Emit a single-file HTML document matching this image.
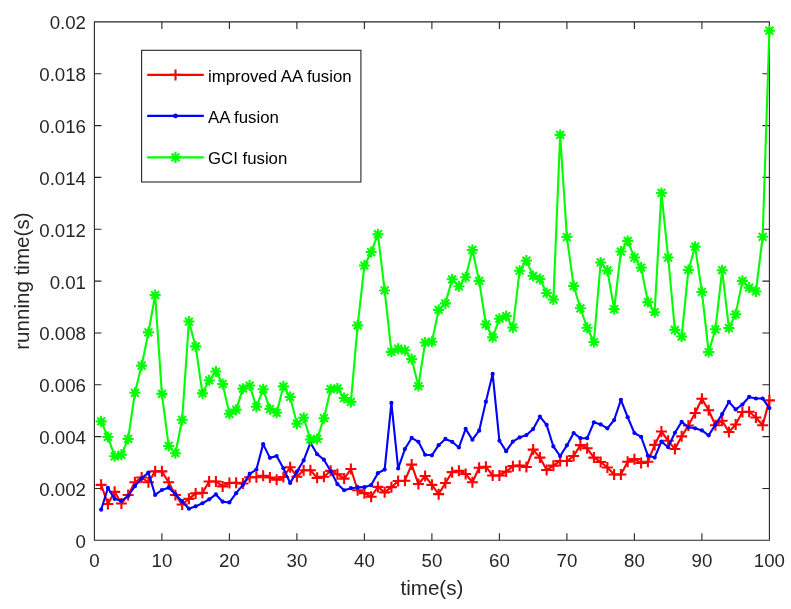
<!DOCTYPE html><html><head><meta charset="utf-8"><style>html,body{margin:0;padding:0;background:#fff;}svg{display:block;will-change:transform;}text{font-family:"Liberation Sans",sans-serif;}</style></head><body>
<svg width="791" height="609" viewBox="0 0 791 609">
<rect width="791" height="609" fill="#fff"/>
<path d="M94.4 21.9H769.4V540.3H94.4ZM94.40 540.3V533.30M94.40 21.9V28.90M161.90 540.3V533.30M161.90 21.9V28.90M229.40 540.3V533.30M229.40 21.9V28.90M296.90 540.3V533.30M296.90 21.9V28.90M364.40 540.3V533.30M364.40 21.9V28.90M431.90 540.3V533.30M431.90 21.9V28.90M499.40 540.3V533.30M499.40 21.9V28.90M566.90 540.3V533.30M566.90 21.9V28.90M634.40 540.3V533.30M634.40 21.9V28.90M701.90 540.3V533.30M701.90 21.9V28.90M769.40 540.3V533.30M769.40 21.9V28.90M94.4 540.30H101.40M769.4 540.30H762.40M94.4 488.46H101.40M769.4 488.46H762.40M94.4 436.62H101.40M769.4 436.62H762.40M94.4 384.78H101.40M769.4 384.78H762.40M94.4 332.94H101.40M769.4 332.94H762.40M94.4 281.10H101.40M769.4 281.10H762.40M94.4 229.26H101.40M769.4 229.26H762.40M94.4 177.42H101.40M769.4 177.42H762.40M94.4 125.58H101.40M769.4 125.58H762.40M94.4 73.74H101.40M769.4 73.74H762.40M94.4 21.90H101.40M769.4 21.90H762.40" stroke="#262626" stroke-width="1.1" fill="none"/>
<polyline points="101.15,484.83 107.90,504.01 114.65,491.83 121.40,503.49 128.15,494.94 134.90,482.24 141.65,477.57 148.40,482.24 155.15,471.35 161.90,471.35 168.65,482.24 175.40,494.94 182.15,504.53 188.90,498.83 195.65,493.38 202.40,492.87 209.15,481.46 215.90,481.46 222.65,486.39 229.40,483.02 236.15,482.76 242.90,483.54 249.65,477.31 256.40,477.31 263.15,475.76 269.90,477.57 276.65,479.65 283.40,477.06 290.15,467.21 296.90,476.80 303.65,470.32 310.40,470.32 317.15,477.83 323.90,476.80 330.65,470.83 337.40,474.20 344.15,478.61 350.90,469.02 357.65,490.27 364.40,493.13 371.15,496.75 377.90,486.90 384.65,492.35 391.40,487.16 398.15,480.94 404.90,480.68 411.65,464.61 418.40,484.05 425.15,476.02 431.90,484.83 438.65,494.16 445.40,483.02 452.15,472.13 458.90,470.83 465.65,473.94 472.40,482.24 479.15,467.72 485.90,466.69 492.65,475.50 499.40,475.50 506.15,471.61 512.90,466.17 519.65,465.65 526.40,466.95 533.15,449.58 539.90,457.62 546.65,470.06 553.40,465.65 560.15,460.98 566.90,460.98 573.65,456.06 580.40,445.17 587.15,448.28 593.90,457.62 600.65,462.02 607.40,467.46 614.15,474.46 620.90,474.46 627.65,461.76 634.40,459.17 641.15,463.06 647.90,461.76 654.65,444.91 661.40,431.44 668.15,440.77 674.90,449.06 681.65,436.36 688.40,425.47 695.15,413.03 701.90,398.78 708.65,410.18 715.40,425.22 722.15,420.81 728.90,431.95 735.65,424.44 742.40,412.00 749.15,411.74 755.90,417.44 762.65,425.22 769.40,400.33" fill="none" stroke="#ff0000" stroke-width="2.1" stroke-linejoin="round"/>
<path d="M95.65 484.83H106.65M101.15 479.33V490.33M102.40 504.01H113.40M107.90 498.51V509.51M109.15 491.83H120.15M114.65 486.33V497.33M115.90 503.49H126.90M121.40 497.99V508.99M122.65 494.94H133.65M128.15 489.44V500.44M129.40 482.24H140.40M134.90 476.74V487.74M136.15 477.57H147.15M141.65 472.07V483.07M142.90 482.24H153.90M148.40 476.74V487.74M149.65 471.35H160.65M155.15 465.85V476.85M156.40 471.35H167.40M161.90 465.85V476.85M163.15 482.24H174.15M168.65 476.74V487.74M169.90 494.94H180.90M175.40 489.44V500.44M176.65 504.53H187.65M182.15 499.03V510.03M183.40 498.83H194.40M188.90 493.33V504.33M190.15 493.38H201.15M195.65 487.88V498.88M196.90 492.87H207.90M202.40 487.37V498.37M203.65 481.46H214.65M209.15 475.96V486.96M210.40 481.46H221.40M215.90 475.96V486.96M217.15 486.39H228.15M222.65 480.89V491.89M223.90 483.02H234.90M229.40 477.52V488.52M230.65 482.76H241.65M236.15 477.26V488.26M237.40 483.54H248.40M242.90 478.04V489.04M244.15 477.31H255.15M249.65 471.81V482.81M250.90 477.31H261.90M256.40 471.81V482.81M257.65 475.76H268.65M263.15 470.26V481.26M264.40 477.57H275.40M269.90 472.07V483.07M271.15 479.65H282.15M276.65 474.15V485.15M277.90 477.06H288.90M283.40 471.56V482.56M284.65 467.21H295.65M290.15 461.71V472.71M291.40 476.80H302.40M296.90 471.30V482.30M298.15 470.32H309.15M303.65 464.82V475.82M304.90 470.32H315.90M310.40 464.82V475.82M311.65 477.83H322.65M317.15 472.33V483.33M318.40 476.80H329.40M323.90 471.30V482.30M325.15 470.83H336.15M330.65 465.33V476.33M331.90 474.20H342.90M337.40 468.70V479.70M338.65 478.61H349.65M344.15 473.11V484.11M345.40 469.02H356.40M350.90 463.52V474.52M352.15 490.27H363.15M357.65 484.77V495.77M358.90 493.13H369.90M364.40 487.63V498.63M365.65 496.75H376.65M371.15 491.25V502.25M372.40 486.90H383.40M377.90 481.40V492.40M379.15 492.35H390.15M384.65 486.85V497.85M385.90 487.16H396.90M391.40 481.66V492.66M392.65 480.94H403.65M398.15 475.44V486.44M399.40 480.68H410.40M404.90 475.18V486.18M406.15 464.61H417.15M411.65 459.11V470.11M412.90 484.05H423.90M418.40 478.55V489.55M419.65 476.02H430.65M425.15 470.52V481.52M426.40 484.83H437.40M431.90 479.33V490.33M433.15 494.16H444.15M438.65 488.66V499.66M439.90 483.02H450.90M445.40 477.52V488.52M446.65 472.13H457.65M452.15 466.63V477.63M453.40 470.83H464.40M458.90 465.33V476.33M460.15 473.94H471.15M465.65 468.44V479.44M466.90 482.24H477.90M472.40 476.74V487.74M473.65 467.72H484.65M479.15 462.22V473.22M480.40 466.69H491.40M485.90 461.19V472.19M487.15 475.50H498.15M492.65 470.00V481.00M493.90 475.50H504.90M499.40 470.00V481.00M500.65 471.61H511.65M506.15 466.11V477.11M507.40 466.17H518.40M512.90 460.67V471.67M514.15 465.65H525.15M519.65 460.15V471.15M520.90 466.95H531.90M526.40 461.45V472.45M527.65 449.58H538.65M533.15 444.08V455.08M534.40 457.62H545.40M539.90 452.12V463.12M541.15 470.06H552.15M546.65 464.56V475.56M547.90 465.65H558.90M553.40 460.15V471.15M554.65 460.98H565.65M560.15 455.48V466.48M561.40 460.98H572.40M566.90 455.48V466.48M568.15 456.06H579.15M573.65 450.56V461.56M574.90 445.17H585.90M580.40 439.67V450.67M581.65 448.28H592.65M587.15 442.78V453.78M588.40 457.62H599.40M593.90 452.12V463.12M595.15 462.02H606.15M600.65 456.52V467.52M601.90 467.46H612.90M607.40 461.96V472.96M608.65 474.46H619.65M614.15 468.96V479.96M615.40 474.46H626.40M620.90 468.96V479.96M622.15 461.76H633.15M627.65 456.26V467.26M628.90 459.17H639.90M634.40 453.67V464.67M635.65 463.06H646.65M641.15 457.56V468.56M642.40 461.76H653.40M647.90 456.26V467.26M649.15 444.91H660.15M654.65 439.41V450.41M655.90 431.44H666.90M661.40 425.94V436.94M662.65 440.77H673.65M668.15 435.27V446.27M669.40 449.06H680.40M674.90 443.56V454.56M676.15 436.36H687.15M681.65 430.86V441.86M682.90 425.47H693.90M688.40 419.97V430.97M689.65 413.03H700.65M695.15 407.53V418.53M696.40 398.78H707.40M701.90 393.28V404.28M703.15 410.18H714.15M708.65 404.68V415.68M709.90 425.22H720.90M715.40 419.72V430.72M716.65 420.81H727.65M722.15 415.31V426.31M723.40 431.95H734.40M728.90 426.45V437.45M730.15 424.44H741.15M735.65 418.94V429.94M736.90 412.00H747.90M742.40 406.50V417.50M743.65 411.74H754.65M749.15 406.24V417.24M750.40 417.44H761.40M755.90 411.94V422.94M757.15 425.22H768.15M762.65 419.72V430.72M763.90 400.33H774.90M769.40 394.83V405.83" stroke="#ff0000" stroke-width="2.1" fill="none"/>
<polyline points="101.15,509.71 107.90,487.94 114.65,498.83 121.40,500.90 128.15,495.98 134.90,486.13 141.65,478.35 148.40,472.65 155.15,494.94 161.90,490.02 168.65,487.68 175.40,494.16 182.15,501.42 188.90,508.68 195.65,506.34 202.40,503.23 209.15,499.35 215.90,494.42 222.65,501.68 229.40,502.46 236.15,493.13 242.90,484.83 249.65,473.94 256.40,469.54 263.15,444.14 269.90,457.87 276.65,456.06 283.40,468.24 290.15,483.02 296.90,471.61 303.65,460.47 310.40,442.84 317.15,454.25 323.90,459.69 330.65,471.09 337.40,484.05 344.15,490.27 350.90,488.20 357.65,487.42 364.40,487.16 371.15,485.09 377.90,473.17 384.65,469.54 391.40,402.92 398.15,468.50 404.90,449.06 411.65,437.92 418.40,441.80 425.15,454.76 431.90,455.28 438.65,445.17 445.40,438.95 452.15,441.80 458.90,447.51 465.65,428.84 472.40,439.73 479.15,430.66 485.90,401.63 492.65,373.89 499.40,440.77 506.15,451.14 512.90,441.54 519.65,437.40 526.40,435.06 533.15,429.10 539.90,416.66 546.65,424.96 553.40,446.47 560.15,456.06 566.90,445.43 573.65,432.99 580.40,438.18 587.15,438.18 593.90,422.36 600.65,424.44 607.40,428.33 614.15,420.03 620.90,399.81 627.65,417.18 634.40,432.99 641.15,436.88 647.90,455.54 654.65,457.62 661.40,441.54 668.15,447.25 674.90,432.73 681.65,421.85 688.40,427.29 695.15,428.33 701.90,430.40 708.65,435.32 715.40,424.70 722.15,414.07 728.90,401.89 735.65,409.40 742.40,404.48 749.15,396.96 755.90,398.52 762.65,398.52 769.40,408.11" fill="none" stroke="#0000ff" stroke-width="2.1" stroke-linejoin="round"/>
<g fill="#0000ff"><circle cx="101.15" cy="509.71" r="2.1"/><circle cx="107.90" cy="487.94" r="2.1"/><circle cx="114.65" cy="498.83" r="2.1"/><circle cx="121.40" cy="500.90" r="2.1"/><circle cx="128.15" cy="495.98" r="2.1"/><circle cx="134.90" cy="486.13" r="2.1"/><circle cx="141.65" cy="478.35" r="2.1"/><circle cx="148.40" cy="472.65" r="2.1"/><circle cx="155.15" cy="494.94" r="2.1"/><circle cx="161.90" cy="490.02" r="2.1"/><circle cx="168.65" cy="487.68" r="2.1"/><circle cx="175.40" cy="494.16" r="2.1"/><circle cx="182.15" cy="501.42" r="2.1"/><circle cx="188.90" cy="508.68" r="2.1"/><circle cx="195.65" cy="506.34" r="2.1"/><circle cx="202.40" cy="503.23" r="2.1"/><circle cx="209.15" cy="499.35" r="2.1"/><circle cx="215.90" cy="494.42" r="2.1"/><circle cx="222.65" cy="501.68" r="2.1"/><circle cx="229.40" cy="502.46" r="2.1"/><circle cx="236.15" cy="493.13" r="2.1"/><circle cx="242.90" cy="484.83" r="2.1"/><circle cx="249.65" cy="473.94" r="2.1"/><circle cx="256.40" cy="469.54" r="2.1"/><circle cx="263.15" cy="444.14" r="2.1"/><circle cx="269.90" cy="457.87" r="2.1"/><circle cx="276.65" cy="456.06" r="2.1"/><circle cx="283.40" cy="468.24" r="2.1"/><circle cx="290.15" cy="483.02" r="2.1"/><circle cx="296.90" cy="471.61" r="2.1"/><circle cx="303.65" cy="460.47" r="2.1"/><circle cx="310.40" cy="442.84" r="2.1"/><circle cx="317.15" cy="454.25" r="2.1"/><circle cx="323.90" cy="459.69" r="2.1"/><circle cx="330.65" cy="471.09" r="2.1"/><circle cx="337.40" cy="484.05" r="2.1"/><circle cx="344.15" cy="490.27" r="2.1"/><circle cx="350.90" cy="488.20" r="2.1"/><circle cx="357.65" cy="487.42" r="2.1"/><circle cx="364.40" cy="487.16" r="2.1"/><circle cx="371.15" cy="485.09" r="2.1"/><circle cx="377.90" cy="473.17" r="2.1"/><circle cx="384.65" cy="469.54" r="2.1"/><circle cx="391.40" cy="402.92" r="2.1"/><circle cx="398.15" cy="468.50" r="2.1"/><circle cx="404.90" cy="449.06" r="2.1"/><circle cx="411.65" cy="437.92" r="2.1"/><circle cx="418.40" cy="441.80" r="2.1"/><circle cx="425.15" cy="454.76" r="2.1"/><circle cx="431.90" cy="455.28" r="2.1"/><circle cx="438.65" cy="445.17" r="2.1"/><circle cx="445.40" cy="438.95" r="2.1"/><circle cx="452.15" cy="441.80" r="2.1"/><circle cx="458.90" cy="447.51" r="2.1"/><circle cx="465.65" cy="428.84" r="2.1"/><circle cx="472.40" cy="439.73" r="2.1"/><circle cx="479.15" cy="430.66" r="2.1"/><circle cx="485.90" cy="401.63" r="2.1"/><circle cx="492.65" cy="373.89" r="2.1"/><circle cx="499.40" cy="440.77" r="2.1"/><circle cx="506.15" cy="451.14" r="2.1"/><circle cx="512.90" cy="441.54" r="2.1"/><circle cx="519.65" cy="437.40" r="2.1"/><circle cx="526.40" cy="435.06" r="2.1"/><circle cx="533.15" cy="429.10" r="2.1"/><circle cx="539.90" cy="416.66" r="2.1"/><circle cx="546.65" cy="424.96" r="2.1"/><circle cx="553.40" cy="446.47" r="2.1"/><circle cx="560.15" cy="456.06" r="2.1"/><circle cx="566.90" cy="445.43" r="2.1"/><circle cx="573.65" cy="432.99" r="2.1"/><circle cx="580.40" cy="438.18" r="2.1"/><circle cx="587.15" cy="438.18" r="2.1"/><circle cx="593.90" cy="422.36" r="2.1"/><circle cx="600.65" cy="424.44" r="2.1"/><circle cx="607.40" cy="428.33" r="2.1"/><circle cx="614.15" cy="420.03" r="2.1"/><circle cx="620.90" cy="399.81" r="2.1"/><circle cx="627.65" cy="417.18" r="2.1"/><circle cx="634.40" cy="432.99" r="2.1"/><circle cx="641.15" cy="436.88" r="2.1"/><circle cx="647.90" cy="455.54" r="2.1"/><circle cx="654.65" cy="457.62" r="2.1"/><circle cx="661.40" cy="441.54" r="2.1"/><circle cx="668.15" cy="447.25" r="2.1"/><circle cx="674.90" cy="432.73" r="2.1"/><circle cx="681.65" cy="421.85" r="2.1"/><circle cx="688.40" cy="427.29" r="2.1"/><circle cx="695.15" cy="428.33" r="2.1"/><circle cx="701.90" cy="430.40" r="2.1"/><circle cx="708.65" cy="435.32" r="2.1"/><circle cx="715.40" cy="424.70" r="2.1"/><circle cx="722.15" cy="414.07" r="2.1"/><circle cx="728.90" cy="401.89" r="2.1"/><circle cx="735.65" cy="409.40" r="2.1"/><circle cx="742.40" cy="404.48" r="2.1"/><circle cx="749.15" cy="396.96" r="2.1"/><circle cx="755.90" cy="398.52" r="2.1"/><circle cx="762.65" cy="398.52" r="2.1"/><circle cx="769.40" cy="408.11" r="2.1"/></g>
<polyline points="101.15,421.33 107.90,436.88 114.65,456.32 121.40,454.76 128.15,438.95 134.90,392.82 141.65,365.60 148.40,332.42 155.15,295.10 161.90,393.85 168.65,445.95 175.40,453.21 182.15,419.77 188.90,321.54 195.65,346.42 202.40,393.33 209.15,380.37 215.90,371.56 222.65,384.00 229.40,413.81 236.15,409.66 242.90,388.67 249.65,385.56 256.40,406.81 263.15,389.19 269.90,409.14 276.65,412.77 283.40,386.34 290.15,396.96 296.90,423.66 303.65,417.70 310.40,439.47 317.15,438.95 323.90,418.22 330.65,389.19 337.40,388.41 344.15,398.00 350.90,401.89 357.65,325.42 364.40,265.55 371.15,252.07 377.90,234.18 384.65,290.43 391.40,351.86 398.15,348.75 404.90,350.31 411.65,359.12 418.40,386.08 425.15,342.53 431.90,341.75 438.65,309.87 445.40,303.39 452.15,279.29 458.90,286.28 465.65,277.21 472.40,250.00 479.15,280.84 485.90,324.39 492.65,337.35 499.40,318.68 506.15,316.09 512.90,327.50 519.65,270.73 526.40,260.62 533.15,275.92 539.90,279.03 546.65,293.02 553.40,299.50 560.15,134.91 566.90,237.04 573.65,286.02 580.40,308.32 587.15,327.76 593.90,342.01 600.65,262.44 607.40,270.47 614.15,309.09 620.90,251.55 627.65,240.92 634.40,257.51 641.15,267.62 647.90,302.10 654.65,312.20 661.40,192.97 668.15,257.51 674.90,329.83 681.65,336.57 688.40,269.95 695.15,246.63 701.90,291.99 708.65,352.12 715.40,329.31 722.15,270.21 728.90,328.02 735.65,314.28 742.40,280.84 749.15,287.58 755.90,291.47 762.65,236.78 769.40,30.71" fill="none" stroke="#00ff00" stroke-width="2.1" stroke-linejoin="round"/>
<path d="M95.65 421.33H106.65M101.15 415.83V426.83M97.26 417.44L105.04 425.22M97.26 425.22L105.04 417.44M102.40 436.88H113.40M107.90 431.38V442.38M104.01 432.99L111.79 440.77M104.01 440.77L111.79 432.99M109.15 456.32H120.15M114.65 450.82V461.82M110.76 452.43L118.54 460.21M110.76 460.21L118.54 452.43M115.90 454.76H126.90M121.40 449.26V460.26M117.51 450.87L125.29 458.65M117.51 458.65L125.29 450.87M122.65 438.95H133.65M128.15 433.45V444.45M124.26 435.06L132.04 442.84M124.26 442.84L132.04 435.06M129.40 392.82H140.40M134.90 387.32V398.32M131.01 388.93L138.79 396.70M131.01 396.70L138.79 388.93M136.15 365.60H147.15M141.65 360.10V371.10M137.76 361.71L145.54 369.49M137.76 369.49L145.54 361.71M142.90 332.42H153.90M148.40 326.92V337.92M144.51 328.53L152.29 336.31M144.51 336.31L152.29 328.53M149.65 295.10H160.65M155.15 289.60V300.60M151.26 291.21L159.04 298.99M151.26 298.99L159.04 291.21M156.40 393.85H167.40M161.90 388.35V399.35M158.01 389.96L165.79 397.74M158.01 397.74L165.79 389.96M163.15 445.95H174.15M168.65 440.45V451.45M164.76 442.06L172.54 449.84M164.76 449.84L172.54 442.06M169.90 453.21H180.90M175.40 447.71V458.71M171.51 449.32L179.29 457.10M171.51 457.10L179.29 449.32M176.65 419.77H187.65M182.15 414.27V425.27M178.26 415.88L186.04 423.66M178.26 423.66L186.04 415.88M183.40 321.54H194.40M188.90 316.04V327.04M185.01 317.65L192.79 325.42M185.01 325.42L192.79 317.65M190.15 346.42H201.15M195.65 340.92V351.92M191.76 342.53L199.54 350.31M191.76 350.31L199.54 342.53M196.90 393.33H207.90M202.40 387.83V398.83M198.51 389.44L206.29 397.22M198.51 397.22L206.29 389.44M203.65 380.37H214.65M209.15 374.87V385.87M205.26 376.48L213.04 384.26M205.26 384.26L213.04 376.48M210.40 371.56H221.40M215.90 366.06V377.06M212.01 367.67L219.79 375.45M212.01 375.45L219.79 367.67M217.15 384.00H228.15M222.65 378.50V389.50M218.76 380.11L226.54 387.89M218.76 387.89L226.54 380.11M223.90 413.81H234.90M229.40 408.31V419.31M225.51 409.92L233.29 417.70M225.51 417.70L233.29 409.92M230.65 409.66H241.65M236.15 404.16V415.16M232.26 405.77L240.04 413.55M232.26 413.55L240.04 405.77M237.40 388.67H248.40M242.90 383.17V394.17M239.01 384.78L246.79 392.56M239.01 392.56L246.79 384.78M244.15 385.56H255.15M249.65 380.06V391.06M245.76 381.67L253.54 389.45M245.76 389.45L253.54 381.67M250.90 406.81H261.90M256.40 401.31V412.31M252.51 402.92L260.29 410.70M252.51 410.70L260.29 402.92M257.65 389.19H268.65M263.15 383.69V394.69M259.26 385.30L267.04 393.08M259.26 393.08L267.04 385.30M264.40 409.14H275.40M269.90 403.64V414.64M266.01 405.26L273.79 413.03M266.01 413.03L273.79 405.26M271.15 412.77H282.15M276.65 407.27V418.27M272.76 408.88L280.54 416.66M272.76 416.66L280.54 408.88M277.90 386.34H288.90M283.40 380.84V391.84M279.51 382.45L287.29 390.22M279.51 390.22L287.29 382.45M284.65 396.96H295.65M290.15 391.46V402.46M286.26 393.07L294.04 400.85M286.26 400.85L294.04 393.07M291.40 423.66H302.40M296.90 418.16V429.16M293.01 419.77L300.79 427.55M293.01 427.55L300.79 419.77M298.15 417.70H309.15M303.65 412.20V423.20M299.76 413.81L307.54 421.59M299.76 421.59L307.54 413.81M304.90 439.47H315.90M310.40 433.97V444.97M306.51 435.58L314.29 443.36M306.51 443.36L314.29 435.58M311.65 438.95H322.65M317.15 433.45V444.45M313.26 435.06L321.04 442.84M313.26 442.84L321.04 435.06M318.40 418.22H329.40M323.90 412.72V423.72M320.01 414.33L327.79 422.11M320.01 422.11L327.79 414.33M325.15 389.19H336.15M330.65 383.69V394.69M326.76 385.30L334.54 393.08M326.76 393.08L334.54 385.30M331.90 388.41H342.90M337.40 382.91V393.91M333.51 384.52L341.29 392.30M333.51 392.30L341.29 384.52M338.65 398.00H349.65M344.15 392.50V403.50M340.26 394.11L348.04 401.89M340.26 401.89L348.04 394.11M345.40 401.89H356.40M350.90 396.39V407.39M347.01 398.00L354.79 405.78M347.01 405.78L354.79 398.00M352.15 325.42H363.15M357.65 319.92V330.92M353.76 321.53L361.54 329.31M353.76 329.31L361.54 321.53M358.90 265.55H369.90M364.40 260.05V271.05M360.51 261.66L368.29 269.44M360.51 269.44L368.29 261.66M365.65 252.07H376.65M371.15 246.57V257.57M367.26 248.18L375.04 255.96M367.26 255.96L375.04 248.18M372.40 234.18H383.40M377.90 228.68V239.68M374.01 230.30L381.79 238.07M374.01 238.07L381.79 230.30M379.15 290.43H390.15M384.65 284.93V295.93M380.76 286.54L388.54 294.32M380.76 294.32L388.54 286.54M385.90 351.86H396.90M391.40 346.36V357.36M387.51 347.97L395.29 355.75M387.51 355.75L395.29 347.97M392.65 348.75H403.65M398.15 343.25V354.25M394.26 344.86L402.04 352.64M394.26 352.64L402.04 344.86M399.40 350.31H410.40M404.90 344.81V355.81M401.01 346.42L408.79 354.20M401.01 354.20L408.79 346.42M406.15 359.12H417.15M411.65 353.62V364.62M407.76 355.23L415.54 363.01M407.76 363.01L415.54 355.23M412.90 386.08H423.90M418.40 380.58V391.58M414.51 382.19L422.29 389.97M414.51 389.97L422.29 382.19M419.65 342.53H430.65M425.15 337.03V348.03M421.26 338.64L429.04 346.42M421.26 346.42L429.04 338.64M426.40 341.75H437.40M431.90 336.25V347.25M428.01 337.86L435.79 345.64M428.01 345.64L435.79 337.86M433.15 309.87H444.15M438.65 304.37V315.37M434.76 305.98L442.54 313.76M434.76 313.76L442.54 305.98M439.90 303.39H450.90M445.40 297.89V308.89M441.51 299.50L449.29 307.28M441.51 307.28L449.29 299.50M446.65 279.29H457.65M452.15 273.79V284.79M448.26 275.40L456.04 283.17M448.26 283.17L456.04 275.40M453.40 286.28H464.40M458.90 280.78V291.78M455.01 282.39L462.79 290.17M455.01 290.17L462.79 282.39M460.15 277.21H471.15M465.65 271.71V282.71M461.76 273.32L469.54 281.10M461.76 281.10L469.54 273.32M466.90 250.00H477.90M472.40 244.50V255.50M468.51 246.11L476.29 253.89M468.51 253.89L476.29 246.11M473.65 280.84H484.65M479.15 275.34V286.34M475.26 276.95L483.04 284.73M475.26 284.73L483.04 276.95M480.40 324.39H491.40M485.90 318.89V329.89M482.01 320.50L489.79 328.28M482.01 328.28L489.79 320.50M487.15 337.35H498.15M492.65 331.85V342.85M488.76 333.46L496.54 341.24M488.76 341.24L496.54 333.46M493.90 318.68H504.90M499.40 313.18V324.18M495.51 314.79L503.29 322.57M495.51 322.57L503.29 314.79M500.65 316.09H511.65M506.15 310.59V321.59M502.26 312.20L510.04 319.98M502.26 319.98L510.04 312.20M507.40 327.50H518.40M512.90 322.00V333.00M509.01 323.61L516.79 331.39M509.01 331.39L516.79 323.61M514.15 270.73H525.15M519.65 265.23V276.23M515.76 266.84L523.54 274.62M515.76 274.62L523.54 266.84M520.90 260.62H531.90M526.40 255.12V266.12M522.51 256.73L530.29 264.51M522.51 264.51L530.29 256.73M527.65 275.92H538.65M533.15 270.42V281.42M529.26 272.03L537.04 279.81M529.26 279.81L537.04 272.03M534.40 279.03H545.40M539.90 273.53V284.53M536.01 275.14L543.79 282.92M536.01 282.92L543.79 275.14M541.15 293.02H552.15M546.65 287.52V298.52M542.76 289.13L550.54 296.91M542.76 296.91L550.54 289.13M547.90 299.50H558.90M553.40 294.00V305.00M549.51 295.61L557.29 303.39M549.51 303.39L557.29 295.61M554.65 134.91H565.65M560.15 129.41V140.41M556.26 131.02L564.04 138.80M556.26 138.80L564.04 131.02M561.40 237.04H572.40M566.90 231.54V242.54M563.01 233.15L570.79 240.93M563.01 240.93L570.79 233.15M568.15 286.02H579.15M573.65 280.52V291.52M569.76 282.14L577.54 289.91M569.76 289.91L577.54 282.14M574.90 308.32H585.90M580.40 302.82V313.82M576.51 304.43L584.29 312.21M576.51 312.21L584.29 304.43M581.65 327.76H592.65M587.15 322.26V333.26M583.26 323.87L591.04 331.65M583.26 331.65L591.04 323.87M588.40 342.01H599.40M593.90 336.51V347.51M590.01 338.12L597.79 345.90M590.01 345.90L597.79 338.12M595.15 262.44H606.15M600.65 256.94V267.94M596.76 258.55L604.54 266.33M596.76 266.33L604.54 258.55M601.90 270.47H612.90M607.40 264.97V275.97M603.51 266.58L611.29 274.36M603.51 274.36L611.29 266.58M608.65 309.09H619.65M614.15 303.59V314.59M610.26 305.20L618.04 312.98M610.26 312.98L618.04 305.20M615.40 251.55H626.40M620.90 246.05V257.05M617.01 247.66L624.79 255.44M617.01 255.44L624.79 247.66M622.15 240.92H633.15M627.65 235.42V246.42M623.76 237.03L631.54 244.81M623.76 244.81L631.54 237.03M628.90 257.51H639.90M634.40 252.01V263.01M630.51 253.62L638.29 261.40M630.51 261.40L638.29 253.62M635.65 267.62H646.65M641.15 262.12V273.12M637.26 263.73L645.04 271.51M637.26 271.51L645.04 263.73M642.40 302.10H653.40M647.90 296.60V307.60M644.01 298.21L651.79 305.98M644.01 305.98L651.79 298.21M649.15 312.20H660.15M654.65 306.70V317.70M650.76 308.31L658.54 316.09M650.76 316.09L658.54 308.31M655.90 192.97H666.90M661.40 187.47V198.47M657.51 189.08L665.29 196.86M657.51 196.86L665.29 189.08M662.65 257.51H673.65M668.15 252.01V263.01M664.26 253.62L672.04 261.40M664.26 261.40L672.04 253.62M669.40 329.83H680.40M674.90 324.33V335.33M671.01 325.94L678.79 333.72M671.01 333.72L678.79 325.94M676.15 336.57H687.15M681.65 331.07V342.07M677.76 332.68L685.54 340.46M677.76 340.46L685.54 332.68M682.90 269.95H693.90M688.40 264.45V275.45M684.51 266.07L692.29 273.84M684.51 273.84L692.29 266.07M689.65 246.63H700.65M695.15 241.13V252.13M691.26 242.74L699.04 250.52M691.26 250.52L699.04 242.74M696.40 291.99H707.40M701.90 286.49V297.49M698.01 288.10L705.79 295.88M698.01 295.88L705.79 288.10M703.15 352.12H714.15M708.65 346.62V357.62M704.76 348.23L712.54 356.01M704.76 356.01L712.54 348.23M709.90 329.31H720.90M715.40 323.81V334.81M711.51 325.42L719.29 333.20M711.51 333.20L719.29 325.42M716.65 270.21H727.65M722.15 264.71V275.71M718.26 266.32L726.04 274.10M718.26 274.10L726.04 266.32M723.40 328.02H734.40M728.90 322.52V333.52M725.01 324.13L732.79 331.90M725.01 331.90L732.79 324.13M730.15 314.28H741.15M735.65 308.78V319.78M731.76 310.39L739.54 318.17M731.76 318.17L739.54 310.39M736.90 280.84H747.90M742.40 275.34V286.34M738.51 276.95L746.29 284.73M738.51 284.73L746.29 276.95M743.65 287.58H754.65M749.15 282.08V293.08M745.26 283.69L753.04 291.47M745.26 291.47L753.04 283.69M750.40 291.47H761.40M755.90 285.97V296.97M752.01 287.58L759.79 295.36M752.01 295.36L759.79 287.58M757.15 236.78H768.15M762.65 231.28V242.28M758.76 232.89L766.54 240.67M758.76 240.67L766.54 232.89M763.90 30.71H774.90M769.40 25.21V36.21M765.51 26.82L773.29 34.60M765.51 34.60L773.29 26.82" stroke="#00ff00" stroke-width="2.1" fill="none"/>
<text x="86" y="547.70" font-size="18.7" text-anchor="end" fill="#262626">0</text>
<text x="86" y="495.86" font-size="18.7" text-anchor="end" fill="#262626">0.002</text>
<text x="86" y="444.02" font-size="18.7" text-anchor="end" fill="#262626">0.004</text>
<text x="86" y="392.18" font-size="18.7" text-anchor="end" fill="#262626">0.006</text>
<text x="86" y="340.34" font-size="18.7" text-anchor="end" fill="#262626">0.008</text>
<text x="86" y="288.50" font-size="18.7" text-anchor="end" fill="#262626">0.01</text>
<text x="86" y="236.66" font-size="18.7" text-anchor="end" fill="#262626">0.012</text>
<text x="86" y="184.82" font-size="18.7" text-anchor="end" fill="#262626">0.014</text>
<text x="86" y="132.98" font-size="18.7" text-anchor="end" fill="#262626">0.016</text>
<text x="86" y="81.14" font-size="18.7" text-anchor="end" fill="#262626">0.018</text>
<text x="86" y="29.30" font-size="18.7" text-anchor="end" fill="#262626">0.02</text>
<text x="94.40" y="567.3" font-size="18.7" text-anchor="middle" fill="#262626">0</text>
<text x="161.90" y="567.3" font-size="18.7" text-anchor="middle" fill="#262626">10</text>
<text x="229.40" y="567.3" font-size="18.7" text-anchor="middle" fill="#262626">20</text>
<text x="296.90" y="567.3" font-size="18.7" text-anchor="middle" fill="#262626">30</text>
<text x="364.40" y="567.3" font-size="18.7" text-anchor="middle" fill="#262626">40</text>
<text x="431.90" y="567.3" font-size="18.7" text-anchor="middle" fill="#262626">50</text>
<text x="499.40" y="567.3" font-size="18.7" text-anchor="middle" fill="#262626">60</text>
<text x="566.90" y="567.3" font-size="18.7" text-anchor="middle" fill="#262626">70</text>
<text x="634.40" y="567.3" font-size="18.7" text-anchor="middle" fill="#262626">80</text>
<text x="701.90" y="567.3" font-size="18.7" text-anchor="middle" fill="#262626">90</text>
<text x="769.40" y="567.3" font-size="18.7" text-anchor="middle" fill="#262626">100</text>
<text x="431.90" y="594.8" font-size="20.6" text-anchor="middle" fill="#262626">time(s)</text>
<text transform="translate(29 281.10) rotate(-90)" x="0" y="0" font-size="20.6" text-anchor="middle" fill="#262626">running time(s)</text>
<rect x="141.6" y="50.3" width="219.30" height="131.70" fill="#fff" stroke="#262626" stroke-width="1.1"/>
<path d="M147.2 74.9H203.8" stroke="#ff0000" stroke-width="2.1"/>
<path d="M170.00 74.90H181.00M175.50 69.40V80.40" stroke="#ff0000" stroke-width="2.1" fill="none"/>
<text x="208" y="81.60" font-size="16.8" fill="#000">improved AA fusion</text>
<path d="M147.2 115.9H203.8" stroke="#0000ff" stroke-width="2.1"/>
<circle cx="175.5" cy="115.9" r="2.3" fill="#0000ff"/>
<text x="208" y="122.60" font-size="16.8" fill="#000">AA fusion</text>
<path d="M147.2 157.4H203.8" stroke="#00ff00" stroke-width="2.1"/>
<path d="M170.00 157.40H181.00M175.50 151.90V162.90M171.61 153.51L179.39 161.29M171.61 161.29L179.39 153.51" stroke="#00ff00" stroke-width="2.1" fill="none"/>
<text x="208" y="164.10" font-size="16.8" fill="#000">GCI fusion</text>
</svg></body></html>
